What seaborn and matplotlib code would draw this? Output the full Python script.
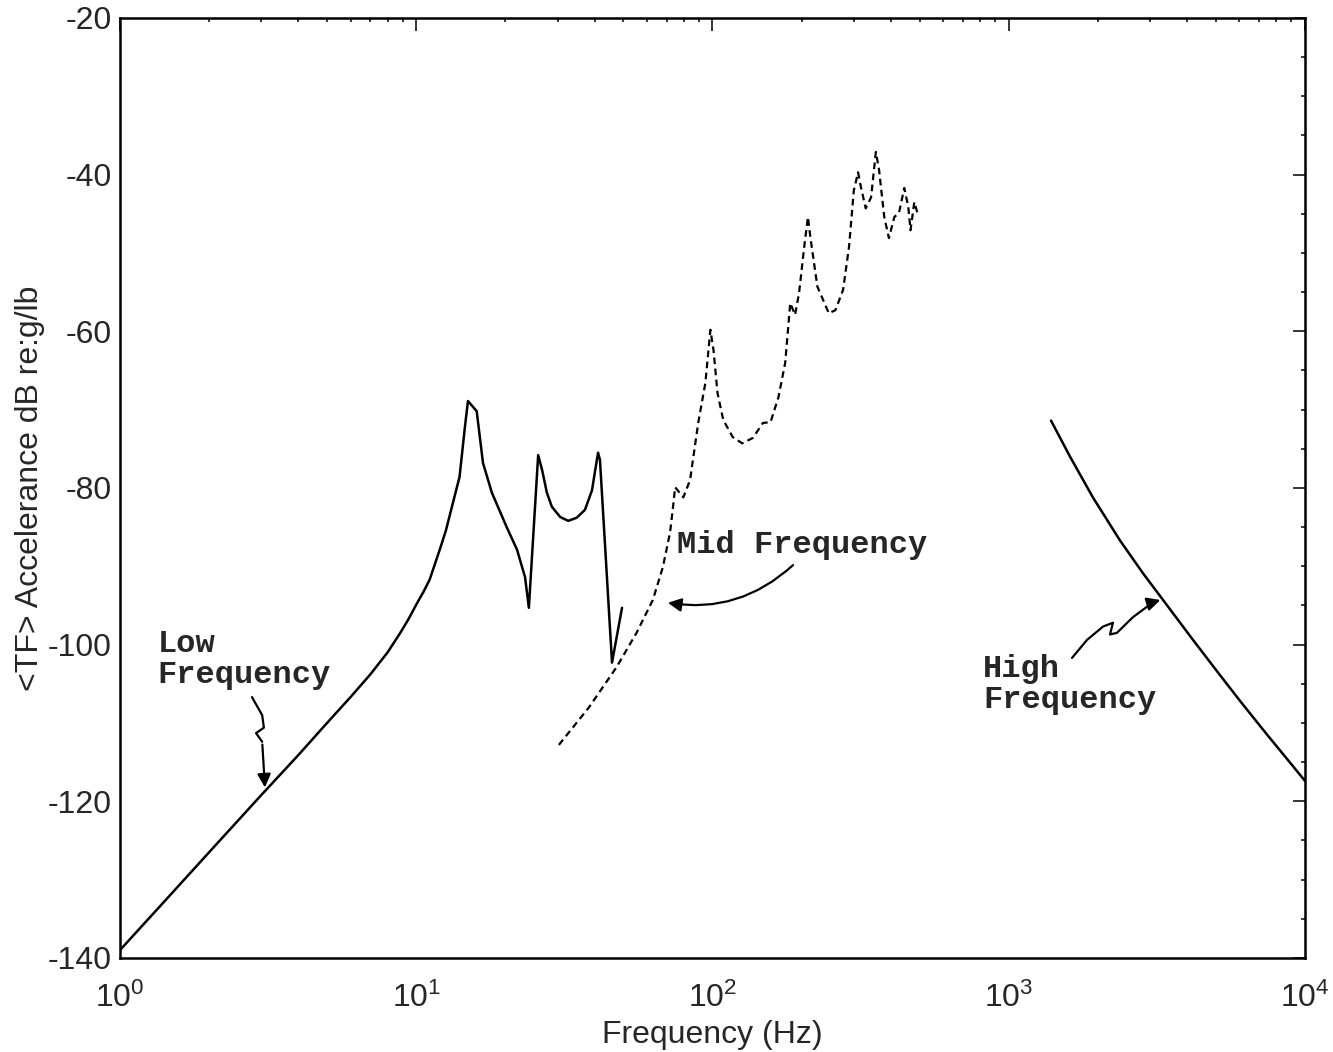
import numpy as np
import pandas as pd
import matplotlib
matplotlib.use('Agg')
import matplotlib.pyplot as plt
import matplotlib.ticker as mticker
import seaborn as sns

# Low frequency model (solid)
low_freq = [1, 1.5, 2, 3, 4, 5, 6, 7, 8, 8.8, 9.4, 10, 10.6, 11.1, 12.0, 12.6, 13.3,
            14.0, 14.6, 14.95, 16.0, 16.8, 18.0, 20.2, 21.9, 23.3, 24.0, 25.8, 26.6,
            27.6, 28.7, 30.6, 32.6, 34.8, 37.1, 39.2, 40.2, 41.1, 41.7, 45.8, 49.5]
low_db = [-139, -131.7, -126.5, -119.2, -114.1, -110, -106.7, -103.8, -101.0,
          -98.6, -96.8, -94.9, -93.2, -91.7, -87.9, -85.4, -81.9, -78.6, -72.2,
          -68.9, -70.2, -76.8, -80.6, -85.0, -87.9, -91.4, -95.3, -75.8, -77.7,
          -80.6, -82.4, -83.7, -84.2, -83.8, -82.8, -80.3, -77.7, -75.5, -76.4,
          -102.3, -95.3]

# Mid frequency model (dashed)
mid_freq = [30.3, 38.3, 47.4, 55.4, 62.9, 68.0, 71.9, 73.6, 74.8, 79.7, 84, 89.5,
            94.6, 98.4, 100.8, 104, 108.7, 117, 126, 137, 148, 157, 167, 176, 183,
            190, 196, 204, 210, 214, 226, 247, 260, 276, 289, 300, 310, 317, 329,
            343, 356, 365, 380, 394, 411, 426, 444, 458, 466, 480, 491]
mid_db = [-112.8, -108, -102.9, -98.5, -94.3, -90.1, -85.7, -82.4, -79.9, -81.2,
          -79.0, -71.7, -66.6, -59.8, -62.4, -67.9, -71.3, -73.5, -74.3, -73.6,
          -71.7, -71.6, -68.4, -64, -56.4, -57.9, -55.1, -49.2, -45.4, -48,
          -54.3, -57.7, -57.3, -54.7, -49.2, -42.0, -39.7, -41.6, -44.3, -42.9,
          -37.1, -39.4, -45.4, -48.1, -45.4, -44.9, -41.7, -44.1, -47.1, -43.5,
          -44.8]

# High frequency model (solid)
high_freq = [1389, 1610, 1923, 2374, 2840, 3318, 4188, 5047, 6039, 7450, 8700, 10000]
high_db = [-71.4, -76.0, -81.2, -86.7, -90.9, -94.3, -99.4, -103.4, -107.2,
           -111.5, -114.6, -117.4]

yticks = [-140, -120, -100, -80, -60, -40, -20]

sns.set_style('white')
plt.rcParams['font.family'] = ['Liberation Sans', 'DejaVu Sans']
plt.rcParams['mathtext.fontset'] = 'custom'
plt.rcParams['mathtext.rm'] = 'Liberation Sans'
plt.rcParams['mathtext.it'] = 'Liberation Sans'
plt.rcParams['axes.unicode_minus'] = False

fig = plt.figure(figsize=(13.33, 10.52), dpi=100)
ax = fig.add_axes([0.090, 0.0894, 0.889, 0.8935])

low = pd.DataFrame({'f': low_freq, 'db': low_db})
mid = pd.DataFrame({'f': mid_freq, 'db': mid_db})
high = pd.DataFrame({'f': high_freq, 'db': high_db})

sns.lineplot(data=low, x='f', y='db', ax=ax, color='black', lw=1.8, sort=False, estimator=None)
sns.lineplot(data=mid, x='f', y='db', ax=ax, color='black', lw=1.6, sort=False, estimator=None,
             linestyle=(0, (3, 2)))
sns.lineplot(data=high, x='f', y='db', ax=ax, color='black', lw=1.8, sort=False, estimator=None)

ax.set_xscale('log')
ax.set_xlim(1, 1e4)
ax.set_ylim(-140, -20)
ax.set_yticks(yticks)
ax.yaxis.set_minor_locator(mticker.MultipleLocator(5))
ax.xaxis.set_major_locator(mticker.LogLocator(base=10, numticks=10))
ax.xaxis.set_minor_locator(mticker.LogLocator(base=10, subs=np.arange(2, 10), numticks=20))
ax.xaxis.set_minor_formatter(mticker.NullFormatter())

ax.tick_params(which='both', direction='in', top=True, right=True, width=1.3)
ax.tick_params(which='major', length=9, labelsize=23)
ax.tick_params(which='minor', length=3)
ax.tick_params(axis='x', which='major', pad=18)
ax.tick_params(axis='y', which='major', pad=6)
for s in ax.spines.values():
    s.set_linewidth(1.8)
    s.set_color('black')

ax.set_xlabel('Frequency (Hz)', fontsize=23, labelpad=4)
ax.set_ylabel('<TF> Accelerance dB re:g/lb', fontsize=23, labelpad=2)

# annotations
mono = dict(family=['Liberation Mono', 'DejaVu Sans Mono'], weight='bold', fontsize=23)
ax.text(1.34, -100.9, 'Low', ha='left', va='baseline', **mono)
ax.text(1.34, -104.9, 'Frequency', ha='left', va='baseline', **mono)
ax.text(75.9, -88.3, 'Mid Frequency', ha='left', va='baseline', **mono)
ax.text(819, -104.1, 'High', ha='left', va='baseline', **mono)
ax.text(819, -108.1, 'Frequency', ha='left', va='baseline', **mono)

# squiggly arrows
lo_path = [(2.79, -106.7), (3.02, -109.0), (3.06, -110.6), (2.88, -111.3), (3.02, -112.4)]
ax.plot(*zip(*lo_path), color='black', lw=1.6)
ax.annotate('', xy=(3.09, -118.6), xytext=lo_path[-1],
            arrowprops=dict(arrowstyle='-|>', color='black', lw=1.6, mutation_scale=20))

ax.annotate('', xy=(69.2, -94.6), xytext=(190, -89.6),
            arrowprops=dict(arrowstyle='-|>', color='black', lw=1.6, mutation_scale=20,
                            connectionstyle='arc3,rad=-0.25'))

hi_path = [(1635, -101.7), (1837, -99.4), (2080, -97.7), (2248, -97.2), (2197, -98.7),
           (2318, -98.5), (2624, -96.5), (3068, -94.6)]
ax.plot(*zip(*hi_path), color='black', lw=1.6)
ax.annotate('', xy=(3318, -94.2), xytext=hi_path[-1],
            arrowprops=dict(arrowstyle='-|>', color='black', lw=1.6, mutation_scale=20))

if ax.get_legend() is not None:
    ax.get_legend().remove()

fig.savefig('out.png', dpi=100)
